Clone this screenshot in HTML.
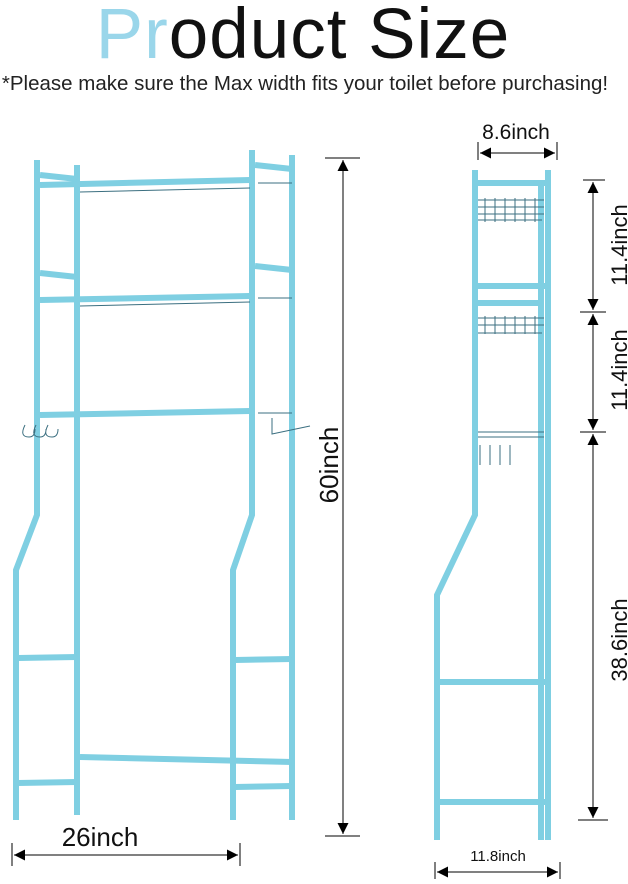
<!DOCTYPE html>
<html><head><style>
body{margin:0;width:628px;height:879px;background:#fff;overflow:hidden;font-family:"Liberation Sans",sans-serif}
</style></head><body>
<svg width="628" height="879" viewBox="0 0 628 879" xmlns="http://www.w3.org/2000/svg">
<defs>
<marker id="a" viewBox="0 0 10 10" refX="10" refY="5" markerWidth="12" markerHeight="11" markerUnits="userSpaceOnUse" orient="auto-start-reverse"><path d="M0,0L10,5L0,10z" fill="#000"/></marker>
</defs>
<text x="303" y="58" text-anchor="middle" font-size="71" font-weight="300" fill="#111" letter-spacing="1"><tspan fill="#9ad6ea">Pr</tspan>oduct Size</text>
<text x="305" y="90" text-anchor="middle" font-size="20.5" fill="#222">*Please make sure the Max width fits your toilet before purchasing!</text>
<g stroke="#7fcfe2" stroke-width="6" fill="none" stroke-linecap="butt">
<polyline points="37,160 37,515 16,570 16,820"/>
<line x1="77" y1="165" x2="77" y2="815"/>
<polyline points="252,150 252,515 233,570 233,820"/>
<line x1="292" y1="155" x2="292" y2="820"/>
<line x1="40" y1="185" x2="250" y2="180"/>
<line x1="40" y1="300" x2="250" y2="296"/>
<line x1="40" y1="415" x2="250" y2="411"/>
<line x1="40" y1="175" x2="77" y2="179"/>
<line x1="40" y1="273" x2="77" y2="277"/>
<line x1="255" y1="165" x2="292" y2="169"/>
<line x1="255" y1="266" x2="292" y2="270"/>
<line x1="18" y1="658" x2="77" y2="657"/>
<line x1="235" y1="660" x2="292" y2="659"/>
<line x1="80" y1="757" x2="292" y2="762"/>
<line x1="18" y1="783" x2="77" y2="782"/>
<line x1="235" y1="787" x2="292" y2="786"/>
<polyline points="475,170 475,515 437,595 437,840"/>
<line x1="541" y1="185" x2="541" y2="840"/>
<line x1="548" y1="170" x2="548" y2="840"/>
<line x1="478" y1="183" x2="546" y2="183"/>
<line x1="478" y1="286" x2="546" y2="286"/>
<line x1="478" y1="303" x2="540" y2="303"/>
<line x1="440" y1="682" x2="546" y2="682"/>
<line x1="440" y1="802" x2="546" y2="802"/>
</g>
<g stroke="#3b6f80" stroke-width="1" fill="none">
<line x1="80" y1="192" x2="250" y2="188"/>
<line x1="80" y1="306" x2="250" y2="302"/>
<path d="M258,183 L292,183 M258,298 L292,298 M258,413 L292,413"/>
<path d="M25,425 q-6,12 4,12 q6,0 6,-8 M36,425 q-6,12 4,12 q6,0 6,-8 M48,425 q-6,12 4,12 q6,0 6,-8"/>
<path d="M272,418 l0,16 l38,-8"/>
<path d="M478,200 h66 M478,207 h66 M478,214 h66 M478,220 h64" />
<path d="M478,318 h66 M478,325 h66 M478,333 h64"/>
<path d="M478,432 h66 M478,437 h66 M480,445 v20 M490,445 v20 M500,445 v20 M510,445 v20"/>
<path d="M485,198v24M495,198v24M505,198v24M515,198v24M525,198v24M535,198v24 M485,316v18M495,316v18M505,316v18M515,316v18M525,316v18M535,316v18"/>
</g>
<g stroke="#000" stroke-width="1" fill="none">
<line x1="343" y1="160" x2="343" y2="834" marker-start="url(#a)" marker-end="url(#a)"/>
<line x1="325" y1="158" x2="360" y2="158"/><line x1="325" y1="836" x2="360" y2="836"/>
<line x1="14" y1="855" x2="238" y2="855" marker-start="url(#a)" marker-end="url(#a)"/>
<line x1="12" y1="843" x2="12" y2="866"/><line x1="240" y1="843" x2="240" y2="866"/>
<line x1="480" y1="153" x2="555" y2="153" marker-start="url(#a)" marker-end="url(#a)"/>
<line x1="478" y1="142" x2="478" y2="160"/><line x1="557" y1="142" x2="557" y2="160"/>
<line x1="593" y1="182" x2="593" y2="310" marker-start="url(#a)" marker-end="url(#a)"/>
<line x1="593" y1="314" x2="593" y2="430" marker-start="url(#a)" marker-end="url(#a)"/>
<line x1="593" y1="434" x2="593" y2="818" marker-start="url(#a)" marker-end="url(#a)"/>
<line x1="583" y1="180" x2="605" y2="180"/><line x1="580" y1="312" x2="606" y2="312"/><line x1="580" y1="432" x2="606" y2="432"/><line x1="578" y1="820" x2="608" y2="820"/>
<line x1="437" y1="872" x2="558" y2="872" marker-start="url(#a)" marker-end="url(#a)"/>
<line x1="435" y1="862" x2="435" y2="879"/><line x1="560" y1="862" x2="560" y2="879"/>
</g>
<g fill="#111" font-weight="300">
<text x="100" y="846" text-anchor="middle" font-size="26">26inch</text>
<text transform="translate(338,465) rotate(-90)" text-anchor="middle" font-size="26">60inch</text>
<text x="516" y="139" text-anchor="middle" font-size="21">8.6inch</text>
<text x="498" y="861" text-anchor="middle" font-size="15">11.8inch</text>
<text transform="translate(627,245) rotate(-90)" text-anchor="middle" font-size="22">11.4inch</text>
<text transform="translate(627,370) rotate(-90)" text-anchor="middle" font-size="22">11.4inch</text>
<text transform="translate(627,640) rotate(-90)" text-anchor="middle" font-size="22">38.6inch</text>
</g>
</svg>
</body></html>
